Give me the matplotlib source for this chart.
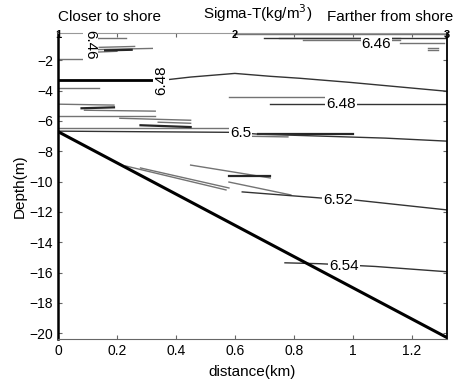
import matplotlib
matplotlib.use("Agg")
import matplotlib.pyplot as plt

plt.rcParams['font.family'] = ['Liberation Sans', 'DejaVu Sans']

# --- data (distance km, depth m) ---
bottom_x = [0.0, 1.32]
bottom_d = [-6.7, -20.3]

# labelled isopycnals
iso_648_thick_x = [0.0, 0.35]
iso_648_thick_d = [-3.32, -3.32]
iso_648_x = [0.35, 0.45, 0.60, 0.72, 0.82, 0.99, 1.32]
iso_648_d = [-3.32, -3.10, -2.86, -3.05, -3.18, -3.45, -4.04]
iso_648b_x = [0.72, 1.32]
iso_648b_d = [-4.89, -4.89]
iso_65_x = [0.0, 0.60, 0.68, 1.11, 1.32]
iso_65_d = [-6.67, -6.75, -6.87, -7.13, -7.33]
iso_652_x = [0.625, 0.89, 1.0, 1.32]
iso_652_d = [-10.68, -11.08, -11.2, -11.87]
iso_654_x = [0.77, 0.89, 1.076, 1.32]
iso_654_d = [-15.36, -15.42, -15.6, -15.95]
iso_646_x = [0.70, 1.32]
iso_646_d = [-0.49, -0.49]

# small unlabelled contour fragments
frag_x = [
    [0.10, 0.23], [0.14, 0.26], [0.10, 0.32], [0.11, 0.20], [0.0, 0.11],
    [0.0, 0.14], [0.0, 0.19], [0.09, 0.33], [0.0, 0.33], [0.21, 0.45],
    [0.34, 0.45], [0.0, 0.58], [0.58, 0.94], [0.62, 0.78],
    [0.23, 0.57], [0.28, 0.58], [0.45, 0.72], [0.58, 0.79],
    [0.75, 1.16], [0.83, 1.16], [1.16, 1.31], [1.256, 1.29], [1.256, 1.29],
    [0.60, 1.32],
]
frag_d = [
    [-0.49, -0.49], [-1.14, -1.08], [-1.30, -1.21], [-1.47, -1.40], [-1.93, -1.93],
    [-3.84, -3.84], [-4.89, -4.95], [-5.29, -5.35], [-5.68, -5.68], [-5.82, -5.95],
    [-6.08, -6.15], [-6.47, -6.47], [-4.43, -4.43], [-7.0, -7.05],
    [-8.97, -10.55], [-9.10, -10.42], [-8.91, -9.76], [-10.03, -10.88],
    [-0.55, -0.55], [-0.68, -0.68], [-0.82, -0.82], [-1.21, -1.21], [-1.30, -1.30],
    [-0.25, -0.25],
]
dark_x = [[0.16, 0.25], [0.08, 0.19], [0.28, 0.45], [0.68, 1.0], [0.58, 0.72]]
dark_d = [[-1.34, -1.30], [-5.16, -5.10], [-6.28, -6.40], [-6.87, -6.87], [-9.63, -9.63]]

label_text = ['6.46', '6.46', '6.48', '6.48', '6.5', '6.52', '6.54']
label_x = [0.11, 1.08, 0.35, 0.96, 0.62, 0.95, 0.97]
label_d = [-1.0, -0.95, -3.3, -4.85, -6.8, -11.2, -15.55]
label_rot = [-90, 0, 90, 0, 0, 0, 0]

station_text = ['1', '2', '3']
station_x = [0.0, 0.6, 1.32]
station_d = [-0.3, -0.3, -0.3]

fig = plt.figure(figsize=(4.6, 3.85), dpi=100)
ax = fig.add_axes([0.126, 0.119, 0.846, 0.795])

for xs, ds in zip(frag_x, frag_d):
    ax.plot(xs, ds, color='0.45', lw=1.0)
for xs, ds in zip(dark_x, dark_d):
    ax.plot(xs, ds, color='0.15', lw=1.6)

ax.plot(iso_648_thick_x, iso_648_thick_d, color='black', lw=2.0)
for xs, ds in [(iso_648_x, iso_648_d), (iso_648b_x, iso_648b_d), (iso_65_x, iso_65_d),
               (iso_652_x, iso_652_d), (iso_654_x, iso_654_d), (iso_646_x, iso_646_d)]:
    ax.plot(xs, ds, color='0.2', lw=1.0)

ax.plot(bottom_x, bottom_d, color='black', lw=2.2)

for t, x, d, r in zip(label_text, label_x, label_d, label_rot):
    ax.text(x, d, t, rotation=r, ha='center', va='center', fontsize=11,
            bbox=dict(facecolor='white', edgecolor='none', pad=0.5))
for t, x, d in zip(station_text, station_x, station_d):
    ax.text(x, d, t, ha='center', va='center', fontsize=8, fontweight='bold')

ax.set_xlim(0, 1.32)
ax.set_ylim(-20.4, -0.2)
ax.set_xticks([0, 0.2, 0.4, 0.6, 0.8, 1.0, 1.2])
ax.set_xticklabels(['0', '0.2', '0.4', '0.6', '0.8', '1', '1.2'])
ax.set_yticks(range(-20, -1, 2))
ax.tick_params(direction='in', top=True, right=True, labelsize=10, length=3, color='0.4')
ax.spines['left'].set_linewidth(1.8)
ax.spines['right'].set_linewidth(1.3)
ax.spines['bottom'].set_color('0.4')
ax.spines['top'].set_color('0.6')
ax.spines['top'].set_linewidth(0.8)

ax.set_xlabel('distance(km)', fontsize=11, labelpad=5)
ax.set_ylabel('Depth(m)', fontsize=11, labelpad=2)
fig.text(0.126, 0.955, 'Closer to shore', fontsize=11, ha='left', va='center')
fig.text(0.56, 0.965, 'Sigma-T(kg/m$^3$)', fontsize=11, ha='center', va='center')
fig.text(0.985, 0.955, 'Farther from shore', fontsize=11, ha='right', va='center')

fig.savefig('out.png', dpi=100)
